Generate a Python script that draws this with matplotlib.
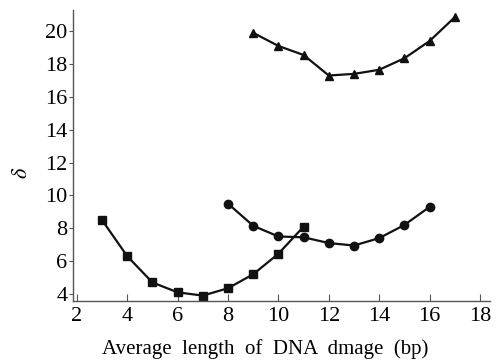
import matplotlib
matplotlib.use("Agg")
import matplotlib.pyplot as plt

plt.rcParams['font.family'] = ['Liberation Serif', 'DejaVu Serif']
plt.rcParams['mathtext.fontset'] = 'stix'

# data
x_tri = [9, 10, 11, 12, 13, 14, 15, 16, 17]
y_tri = [19.9, 19.1, 18.55, 17.3, 17.4, 17.65, 18.35, 19.4, 20.85]
x_cir = [8, 9, 10, 11, 12, 13, 14, 15, 16]
y_cir = [9.5, 8.15, 7.5, 7.45, 7.1, 6.95, 7.4, 8.2, 9.3]
x_sq = [3, 4, 5, 6, 7, 8, 9, 10, 11]
y_sq = [8.5, 6.3, 4.7, 4.1, 3.9, 4.35, 5.2, 6.45, 8.1]

xticks = [2, 4, 6, 8, 10, 12, 14, 16, 18]
yticks = [4, 6, 8, 10, 12, 14, 16, 18, 20]

fig = plt.figure(figsize=(4.97, 3.64), dpi=100)
ax = fig.add_axes([0.147, 0.173, 0.839, 0.80])

ax.plot(x_tri, y_tri, color='#111111', lw=1.6, marker='^', ms=6)
ax.plot(x_cir, y_cir, color='#111111', lw=1.6, marker='o', ms=6)
ax.plot(x_sq, y_sq, color='#111111', lw=1.6, marker='s', ms=5.5)

ax.set_xlim(1.85, 18.4)
ax.set_ylim(3.57, 21.3)
ax.set_xticks(xticks)
ax.set_yticks(yticks)

for s in ['top', 'right']:
    ax.spines[s].set_visible(False)
for s in ['left', 'bottom']:
    ax.spines[s].set_color('#555555')
    ax.spines[s].set_linewidth(1.0)

ax.tick_params(axis='x', direction='in', length=5, color='#555555', labelsize=16, pad=4)
ax.tick_params(axis='y', direction='out', length=3, color='#555555', labelsize=16, pad=1)

ax.set_xlabel('Average  length  of  DNA  dmage  (bp)', fontsize=15)
ax.set_ylabel(r'$\delta$', fontsize=16)
ax.xaxis.set_label_coords(0.46, -0.132)
ax.yaxis.set_label_coords(-0.098, 0.44)

fig.savefig('out.png', dpi=100)
